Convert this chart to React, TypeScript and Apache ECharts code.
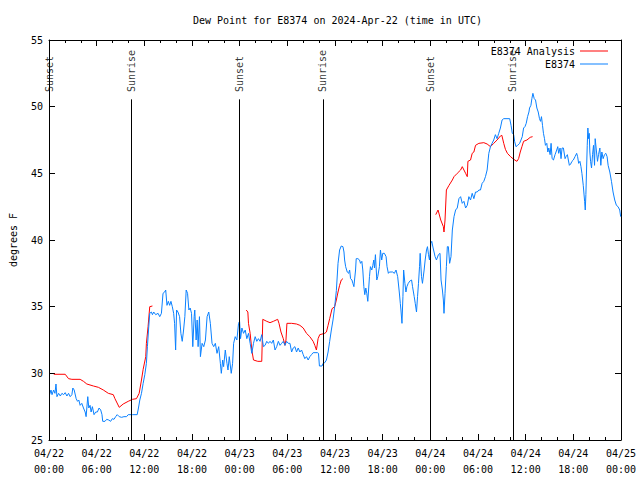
import React, { useEffect, useRef } from "react";
import * as echarts from "echarts";

const chartTitle = "Dew Point for E8374 on 2024-Apr-22 (time in UTC)";
const yAxisName = "degrees F";
const monthLabel = "04";
const firstDay = 22;
const analysisName = "E8374 Analysis";
const observedName = "E8374";

const eventNames = ["Sunset", "Sunrise", "Sunset", "Sunrise", "Sunset", "Sunrise"];
const eventHours = [0.05, 10.4, 23.97, 34.48, 48.0, 58.39];

// hours since 04/22 00:00 UTC, dew point (F)
const observed: [number, number][] = [
  [0.08, 28.4], [0.25, 28.75], [0.38, 28.4], [0.58, 28.75], [0.75, 28.5], [0.88, 29.2], [1.0, 28.25],
  [1.21, 28.5], [1.42, 28.3], [1.63, 28.5], [1.84, 28.4], [2.04, 28.55], [2.25, 28.3], [2.46, 28.5],
  [2.67, 28.25], [2.88, 28.4], [3.0, 28.9], [3.17, 28.75], [3.42, 28.1], [3.59, 27.9], [3.75, 28.0],
  [3.92, 27.6], [4.13, 27.75], [4.34, 27.4], [4.55, 27.1], [4.67, 26.75], [4.88, 28.25], [5.01, 27.4],
  [5.17, 27.6], [5.3, 27.1], [5.46, 27.5], [5.67, 26.9], [5.88, 27.1], [6.09, 27.1], [6.3, 27.4],
  [6.51, 27.25], [6.67, 26.9], [6.76, 26.4], [7.05, 26.4], [7.26, 26.55], [7.51, 26.5], [7.76, 26.4],
  [7.97, 26.6], [8.18, 26.55], [8.39, 26.75], [8.59, 26.9], [8.84, 26.75], [9.14, 26.7], [9.43, 26.75],
  [9.76, 26.75], [9.97, 26.9], [10.51, 26.9], [11.1, 26.9], [11.26, 27.4], [11.43, 28.0], [11.64, 28.5],
  [11.85, 29.25], [12.06, 29.9], [12.26, 30.75], [12.39, 32.0], [12.51, 33.1], [12.68, 34.5], [12.89, 34.6],
  [13.02, 34.4], [13.18, 34.6], [13.43, 34.4], [13.73, 34.5], [13.94, 34.25], [14.15, 34.5], [14.35, 36.0],
  [14.56, 36.1], [14.69, 36.25], [14.85, 35.1], [15.02, 35.4], [15.19, 35.1], [15.35, 35.4], [15.52, 35.0],
  [15.69, 34.5], [15.81, 33.75], [15.94, 31.75], [16.06, 34.75], [16.23, 34.6], [16.44, 34.25], [16.6, 33.0],
  [16.77, 32.4], [16.94, 33.25], [17.1, 34.25], [17.27, 36.25], [17.44, 36.0], [17.61, 34.75], [17.77, 34.9],
  [17.94, 34.5], [18.1, 32.0], [18.27, 34.25],
  [18.35, 34.75], [18.52, 32.5], [18.65, 34.0], [18.77, 32.0], [18.94, 34.25], [19.06, 31.25], [19.27, 32.25],
  [19.48, 32.0], [19.69, 32.5], [19.9, 34.25], [20.11, 34.6], [20.31, 33.75], [20.52, 32.25], [20.73, 32.0],
  [20.94, 32.25], [21.15, 31.5], [21.36, 32.0], [21.57, 30.75], [21.69, 30.0], [21.86, 31.0], [21.98, 30.5],
  [22.19, 31.75], [22.4, 30.75], [22.53, 30.25], [22.69, 31.25], [22.94, 30.0], [23.11, 30.75], [23.24, 32.25],
  [23.44, 32.75], [23.65, 32.5], [23.86, 33.75], [23.99, 33.9], [24.11, 32.6], [24.28, 33.4], [24.49, 33.0],
  [24.7, 33.25], [24.9, 32.6], [25.11, 33.0], [25.32, 32.25], [25.53, 31.5], [25.74, 32.25], [25.95, 32.75],
  [26.16, 32.4], [26.36, 32.6], [26.57, 32.4], [26.78, 32.9], [26.99, 32.0], [27.2, 32.1], [27.41, 32.4],
  [27.62, 32.25], [27.82, 32.4], [28.03, 32.25], [28.24, 32.5], [28.45, 31.75], [28.66, 32.0], [28.87, 32.4],
  [29.08, 32.1], [29.28, 32.25], [29.49, 32.4], [29.7, 32.1], [29.91, 32.4], [30.12, 32.25], [30.33, 32.25],
  [30.54, 31.6], [30.74, 31.9], [30.95, 32.0], [31.16, 31.6], [31.37, 31.9], [31.58, 31.6], [31.79, 31.75],
  [32.0, 31.4], [32.2, 31.1], [32.41, 31.25], [32.62, 31.0], [32.83, 31.25], [33.04, 31.4], [33.25, 31.55],
  [33.79, 31.55], [33.92, 31.5], [34.04, 30.55], [34.37, 30.55], [34.5, 30.75], [34.71, 30.8], [34.92, 31.0],
  [35.13, 31.6], [35.33, 32.4], [35.54, 33.25], [35.75, 34.0], [35.96, 35.0], [36.17, 36.2],
  [36.38, 38.25], [36.58, 39.25], [36.79, 39.55], [37.0, 39.5], [37.13, 39.1], [37.21, 38.5], [37.34, 38.0],
  [37.54, 37.6], [37.71, 37.5], [37.84, 37.75], [37.96, 37.1], [38.13, 37.0], [38.25, 36.75], [38.38, 36.5],
  [38.46, 37.0], [38.59, 37.75], [38.67, 38.6], [38.88, 38.6], [39.09, 38.5], [39.21, 38.25], [39.38, 38.4],
  [39.5, 37.75], [39.63, 36.5], [39.75, 35.9], [39.88, 36.4], [40.0, 36.0], [40.13, 35.4], [40.34, 37.25],
  [40.46, 38.0], [40.63, 37.75], [40.76, 38.1], [40.88, 38.5], [40.97, 37.9], [41.09, 38.9], [41.26, 37.0],
  [41.38, 37.25], [41.59, 38.0], [41.72, 39.25], [41.88, 38.5], [42.01, 39.0], [42.22, 39.0], [42.43, 38.75],
  [42.55, 38.0], [42.72, 37.5], [42.84, 37.6], [43.05, 37.6], [43.26, 37.6], [43.47, 37.5], [43.68, 37.75],
  [43.89, 37.25], [44.09, 36.1], [44.22, 35.25], [44.3, 34.75], [44.43, 33.75], [44.55, 35.75], [44.64, 37.75],
  [44.8, 36.75], [44.93, 36.1], [45.05, 36.5], [45.22, 36.75], [45.47, 36.95], [45.64, 37.0], [45.76, 36.5],
  [45.97, 35.75], [46.1, 35.25], [46.26, 34.6], [46.39, 35.75], [46.51, 36.75], [46.64, 38.0], [46.72, 39.0],
  [46.89, 37.25], [47.01, 36.75], [47.22, 37.75], [47.35, 38.5], [47.52, 39.25], [47.64, 39.5], [47.77, 38.9],
  [47.89, 38.5], [47.97, 39.0], [48.06, 39.75],
  [48.18, 39.9], [48.35, 39.4], [48.6, 38.75], [48.77, 38.5], [49.02, 38.9], [49.22, 39.0], [49.35, 37.0],
  [49.52, 36.25], [49.64, 35.5], [49.72, 34.5], [49.85, 36.0], [50.02, 38.0], [50.14, 39.5], [50.27, 39.5],
  [50.43, 38.25], [50.6, 38.75], [50.77, 40.75], [50.98, 41.75], [51.18, 42.25], [51.39, 42.4], [51.6, 43.1],
  [51.81, 43.25], [52.02, 42.75], [52.23, 42.9], [52.44, 42.4], [52.65, 42.6], [52.85, 43.25], [53.06, 43.0],
  [53.27, 43.5], [53.48, 43.1], [53.69, 43.6], [53.9, 43.6], [54.11, 43.75], [54.31, 43.75], [54.52, 44.25],
  [54.73, 44.4], [54.94, 44.75], [55.15, 45.25], [55.36, 46.5], [55.57, 47.0], [55.77, 47.25], [55.98, 47.5],
  [56.19, 47.9], [56.4, 47.6], [56.61, 48.0], [56.82, 48.4], [57.03, 49.0],
  [57.24, 49.1], [57.99, 49.1], [58.16, 48.6], [58.32, 48.0], [58.49, 47.9], [58.61, 47.4], [58.78, 47.0],
  [58.99, 47.1], [59.24, 47.25], [59.41, 47.5], [59.57, 47.75], [59.74, 48.4], [59.91, 48.5], [60.07, 48.75],
  [60.24, 49.25], [60.41, 49.6], [60.49, 49.9], [60.66, 50.1], [60.78, 50.6], [60.91, 51.0], [61.08, 50.6],
  [61.24, 50.5], [61.41, 49.9], [61.58, 49.6], [61.74, 49.1], [61.87, 48.9], [61.99, 49.25], [62.12, 48.6],
  [62.24, 48.0], [62.37, 47.6], [62.49, 47.1], [62.66, 47.25], [62.79, 46.6], [62.91, 46.9], [63.08, 46.4],
  [63.2, 47.25], [63.33, 46.1], [63.5, 46.0], [63.7, 46.4], [63.91, 46.75], [64.04, 47.0], [64.16, 46.5],
  [64.33, 46.9], [64.45, 46.1], [64.58, 46.9], [64.75, 46.9], [64.96, 46.1], [65.08, 46.25], [65.25, 46.4],
  [65.37, 46.0], [65.5, 45.6], [65.66, 45.7], [65.83, 45.9], [66.0, 46.0], [66.21, 46.25], [66.42, 46.5],
  [66.54, 46.25], [66.67, 45.75], [66.83, 45.9], [66.96, 45.5], [67.08, 45.0], [67.25, 44.1], [67.42, 42.9],
  [67.5, 42.25], [67.58, 43.4], [67.67, 45.4], [67.75, 47.1], [67.83, 48.4], [67.92, 47.6], [68.0, 48.0],
  [68.08, 46.6], [68.17, 45.9], [68.29, 45.4], [68.42, 46.4], [68.54, 47.1], [68.67, 45.6], [68.75, 47.6],
  [68.92, 46.6], [69.04, 45.9], [69.17, 46.4], [69.34, 46.9], [69.46, 45.6], [69.59, 46.6], [69.75, 46.1],
  [69.92, 46.4], [70.09, 46.5], [70.25, 46.25], [70.38, 45.6], [70.59, 45.1], [70.8, 44.4], [71.0, 43.6],
  [71.21, 43.0], [71.42, 42.6], [71.63, 42.5], [71.84, 42.25], [71.96, 41.75],
];

const analysisDay1: [number, number][] = [
  [0.6, 29.93], [2.04, 29.93], [2.46, 29.6], [2.88, 29.55], [3.92, 29.55], [4.34, 29.4], [4.76, 29.2],
  [5.59, 29.05], [6.22, 28.95], [6.84, 28.75], [7.47, 28.5], [8.09, 28.4], [8.3, 28.1], [8.84, 27.45],
  [9.34, 27.7], [9.97, 27.9], [10.51, 28.05], [11.01, 28.1], [11.35, 28.5], [11.64, 29.5], [11.85, 30.3],
  [12.18, 31.25], [12.26, 32.25], [12.47, 33.5], [12.68, 35.0], [13.02, 35.05],
];
const analysisDay2: [number, number][] = [
  [24.82, 34.75], [25.03, 34.6], [25.11, 33.75], [25.32, 33.0], [25.53, 31.75], [25.74, 31.0], [26.28, 30.9],
  [26.78, 30.9], [26.91, 34.05], [27.41, 33.9], [27.82, 33.8], [28.24, 33.9], [28.78, 34.05], [28.95, 33.75],
  [29.2, 33.1], [29.49, 32.6], [29.7, 32.1], [29.83, 32.5], [29.95, 33.75], [30.54, 33.75], [31.16, 33.7],
  [31.58, 33.6], [32.0, 33.4], [32.41, 33.0], [32.83, 32.75], [33.25, 32.4], [33.46, 32.1], [33.66, 31.75],
  [33.87, 32.6], [34.08, 32.9], [34.71, 33.0], [34.92, 33.1], [35.13, 33.6], [35.33, 34.1], [35.63, 34.85],
  [35.96, 35.0], [36.17, 35.5], [36.38, 36.1], [36.58, 36.6], [36.79, 37.0], [37.0, 37.1],
];
const analysisDay3: [number, number][] = [
  [48.68, 41.9], [48.97, 42.25], [49.31, 41.5], [49.64, 41.0], [49.72, 40.6], [49.85, 41.5], [50.02, 43.75],
  [50.35, 44.1], [50.77, 44.5], [50.98, 44.75], [51.39, 45.0], [51.81, 45.25], [52.02, 45.5], [52.23, 45.25],
  [52.44, 45.0], [52.65, 44.75], [52.73, 45.9], [53.06, 46.0], [53.27, 46.5], [53.48, 46.6], [53.69, 47.1],
  [54.11, 47.25], [54.73, 47.3], [55.15, 47.2], [55.57, 47.0], [55.98, 47.25], [56.4, 47.5], [56.82, 47.8],
  [57.0, 47.85], [57.24, 47.25], [57.45, 46.8], [57.7, 46.5], [58.1, 46.25], [58.5, 46.05], [58.9, 45.9],
  [59.11, 46.1], [59.32, 46.6], [59.53, 47.0], [59.74, 47.4], [60.16, 47.5], [60.57, 47.7], [60.87, 47.75],
];

const FONT = "'DejaVu Sans Mono', monospace";
const RED = "#ff0000";
const BLUE = "#0a80ff";

export default function App() {
  const ref = useRef<HTMLDivElement>(null);
  useEffect(() => {
    if (!ref.current) return;
    const chart = echarts.init(ref.current, undefined, { renderer: "svg" });
    const analysis: any[] = [
      ...analysisDay1,
      [analysisDay1[analysisDay1.length - 1][0] + 0.1, "-"],
      ...analysisDay2,
      [analysisDay2[analysisDay2.length - 1][0] + 0.1, "-"],
      ...analysisDay3,
    ];
    const fmtX = (v: number) => {
      const d = firstDay + Math.floor(v / 24);
      const hh = Math.round(v % 24);
      return `${monthLabel}/${d}\n${String(hh).padStart(2, "0")}:00`;
    };
    const xCommon = {
      type: "value" as const,
      min: 0,
      max: 72,
      interval: 6,
      splitLine: { show: false },
      axisLine: { show: true, onZero: false, lineStyle: { color: "#000", width: 1 } },
      axisTick: { show: true, inside: true, length: 6, lineStyle: { color: "#000" } },
      minorTick: { show: true, splitNumber: 3, length: 3, lineStyle: { color: "#000" } },
    };
    const yCommon = {
      type: "value" as const,
      min: 25,
      max: 55,
      interval: 5,
      splitLine: { show: false },
      axisLine: { show: true, onZero: false, lineStyle: { color: "#000", width: 1 } },
      axisTick: { show: true, inside: true, length: 6, lineStyle: { color: "#000" } },
    };
    const legendCommon = {
      right: 27,
      orient: "vertical" as const,
      align: "right" as const,
      icon: "rect",
      itemWidth: 28,
      itemHeight: 1,
      textStyle: { fontFamily: FONT, fontSize: 10, color: "#000" },
      selectedMode: false,
    };
    chart.setOption({
      animation: false,
      backgroundColor: "#fff",
      title: {
        text: chartTitle,
        left: 188,
        top: 10,
        textStyle: { fontFamily: FONT, fontSize: 10, fontWeight: "normal", color: "#000" },
      },
      legend: [
        { ...legendCommon, top: 41, data: [analysisName] },
        { ...legendCommon, top: 54, data: [observedName] },
      ],
      grid: { left: 46, right: 19, top: 40, bottom: 40 },
      xAxis: [
        {
          ...xCommon,
          position: "bottom",
          axisLabel: {
            formatter: fmtX,
            fontFamily: FONT,
            fontSize: 10,
            color: "#000",
            lineHeight: 16,
            margin: 5,
          },
        },
        { ...xCommon, position: "top", axisLabel: { show: false } },
      ],
      yAxis: [
        {
          ...yCommon,
          position: "left",
          name: yAxisName,
          nameLocation: "middle",
          nameGap: 31,
          nameRotate: 90,
          nameTextStyle: { fontFamily: FONT, fontSize: 10, color: "#000" },
          axisLabel: { fontFamily: FONT, fontSize: 10, color: "#000", margin: 6 },
        },
        { ...yCommon, position: "right", axisLabel: { show: false } },
      ],
      series: [
        {
          name: analysisName,
          type: "line",
          data: analysis,
          showSymbol: false,
          connectNulls: false,
          lineStyle: { color: RED, width: 1 },
          itemStyle: { color: RED },
        },
        {
          name: observedName,
          type: "line",
          data: observed,
          showSymbol: false,
          lineStyle: { color: BLUE, width: 1 },
          itemStyle: { color: BLUE },
        },
        {
          name: "events",
          type: "scatter",
          symbolSize: 1,
          itemStyle: { color: "rgba(0,0,0,0)" },
          data: eventHours.map((h, i) => ({ value: [h, 51.1], name: eventNames[i] })),
          label: {
            show: true,
            position: "inside",
            formatter: (p: any) => p.name,
            rotate: 90,
            align: "left",
            verticalAlign: "middle",
            fontFamily: FONT,
            fontSize: 10,
            color: "#000",
          },
          markLine: {
            silent: true,
            symbol: ["none", "none"],
            label: { show: false },
            lineStyle: { color: "#000", width: 1, type: "solid" },
            data: eventHours.map((h) => [{ coord: [h, 50.55] }, { coord: [h, 25] }]),
          },
        },
      ],
    });
    return () => chart.dispose();
  }, []);
  return (
    <div
      ref={ref}
      style={{ position: "fixed", left: 0, top: 0, width: 640, height: 480, background: "#fff" }}
    />
  );
}
